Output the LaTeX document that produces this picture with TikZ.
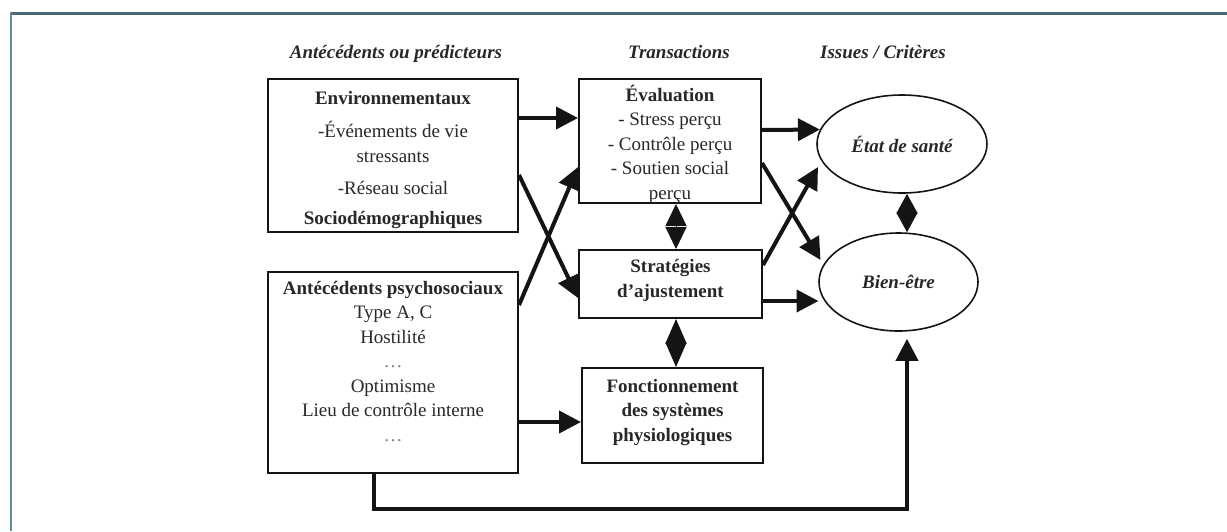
\documentclass[tikz,border=0pt]{standalone}
\usepackage{fontspec}
\setmainfont{Liberation Serif}
\usetikzlibrary{arrows.meta,shapes.geometric}
\definecolor{framecol}{RGB}{72,104,114}
\definecolor{frameleft}{RGB}{96,140,150}
\definecolor{ink}{RGB}{20,20,20}
\definecolor{txtcol}{RGB}{40,40,40}
\begin{document}
\begin{tikzpicture}[x=1pt,y=-1pt,
  every node/.style={font=\fontsize{19}{24.5}\selectfont, text=txtcol},
  box/.style={draw=ink, line width=2pt, inner sep=0pt},
  txt/.style={align=center, inner sep=0pt, anchor=base},
  oval/.style={ellipse, draw=ink, line width=1.6pt, inner sep=0pt, font=\fontsize{19}{24}\selectfont\bfseries\itshape},
  head/.style={font=\fontsize{19}{24}\selectfont\bfseries\itshape, anchor=base, inner sep=0pt},
  arr/.style={draw=ink, line width=4pt, -{Triangle[length=22pt,width=22pt]}},
  twoway/.style={draw=ink, line width=1pt, {Triangle[length=#1,width=21pt]}-{Triangle[length=#1,width=21pt]}}
]
\useasboundingbox (0,0) rectangle (1227,531);
\fill[white] (0,0) rectangle (1227,531);
% frame
\draw[framecol, line width=3pt] (9.5,13) -- (1227,13);
\draw[frameleft, line width=2pt] (11,12) -- (11,531);

% headers
\node[head] (h1) at (396,58) {Antécédents ou prédicteurs};
\node[head] (h2) at (679,58) {Transactions};
\node[head] (h3) at (883,58) {Issues / Critères};

% boxes
\node[box, minimum width=250pt, minimum height=153pt] (env) at (393,155.5) {};
\node[box, minimum width=250pt, minimum height=201pt] (psy) at (393,372.5) {};
\node[box, minimum width=182pt, minimum height=124pt] (eval) at (670,141) {};
\node[box, minimum width=183pt, minimum height=68pt] (strat) at (670.5,284) {};
\node[box, minimum width=181pt, minimum height=95pt] (fonct) at (672.5,415.5) {};
\node[oval, minimum width=170pt, minimum height=98pt] (etat) at (902,144) {État de santé};
\node[oval, minimum width=159pt, minimum height=98pt] (bien) at (898.5,282) {Bien-être};

% texts (base anchor = baseline of the last line)
\node[txt] (env-t) at ([yshift=-146pt]env.north) {\textbf{Environnementaux}\\[9pt] -Événements de vie\\ stressants\\[8pt] -Réseau social\\[5pt] \textbf{Sociodémographiques}};
\node[txt] (psy-t) at ([yshift=-170pt]psy.north) {\textbf{Antécédents psychosociaux}\\ Type A, C\\ Hostilité\\ {\color{gray}…}\\ Optimisme\\ Lieu de contrôle interne\\ {\color{gray}…}};
\node[txt] (eval-t) at ([yshift=-121pt]eval.north) {\textbf{Évaluation}\\ - Stress perçu\\ - Contrôle perçu\\ - Soutien social\\ perçu};
\node[txt] (strat-t) at ([yshift=-48pt]strat.north) {\textbf{Stratégies}\\ \textbf{d’ajustement}};
\node[txt] (fonct-t) at ([yshift=-74pt]fonct.north) {\textbf{Fonctionnement}\\ \textbf{des systèmes}\\ \textbf{physiologiques}};

% arrows
\draw[arr] ([yshift=37.5pt]env.east) -- ([yshift=23pt]eval.west);
\draw[arr] ([yshift=-19.5pt]env.east) -- ([yshift=-14pt]strat.west);
\draw[arr] ([yshift=67.5pt]psy.east) -- ([yshift=-26pt]eval.west);
\draw[arr] ([yshift=-49.5pt]psy.east) -- ([yshift=-6.5pt]fonct.west);
\draw[arr] ([yshift=11pt]eval.east) -- (etat.170);
\draw[arr] ([yshift=-22pt]eval.east) -- ([xshift=-78pt,yshift=22pt]bien.center);
\draw[arr] ([yshift=19pt]strat.east) -- ([xshift=-84pt,yshift=-23pt]etat.center);
\draw[arr] ([yshift=-17pt]strat.east) -- ([xshift=-80pt,yshift=-19pt]bien.center);
\draw[arr] ([xshift=-19pt]psy.south) -- ++(0,35) -| ([xshift=8.5pt,yshift=-7pt]bien.south);

% two-way links
\draw[twoway=22pt] ([xshift=6pt]eval.south) -- ([xshift=5.5pt]strat.north);
\draw[twoway=24.5pt] ([xshift=5.5pt]strat.south) -- ([xshift=3.5pt]fonct.north);
\draw[twoway=19.5pt] ([xshift=5pt]etat.south) -- ([xshift=8.5pt]bien.north);
\end{tikzpicture}
\end{document}
